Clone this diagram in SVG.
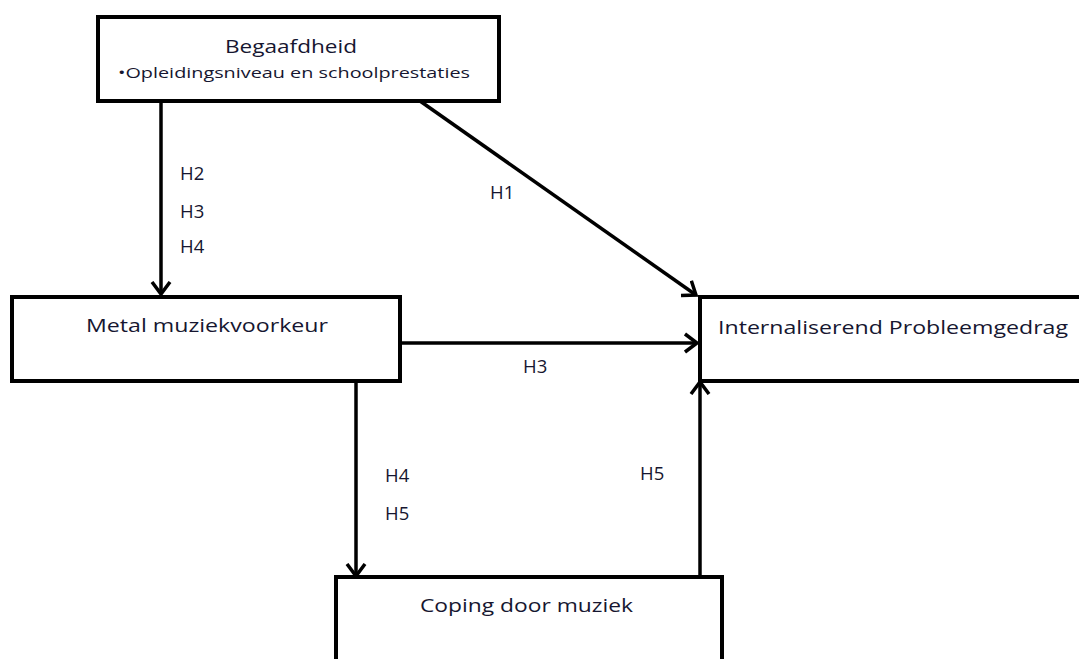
<svg xmlns="http://www.w3.org/2000/svg" width="1079" height="659" viewBox="0 0 1079 659">
<defs>
<marker id="ah" markerUnits="userSpaceOnUse" markerWidth="26" markerHeight="26" refX="13" refY="13" orient="auto" viewBox="0 0 26 26">
<path d="M1,4 L13,13 L1,22" fill="none" stroke="#000" stroke-width="3.5"/>
</marker>
<style>
.box{fill:#fff;stroke:#000;stroke-width:4}
.t{font-family:"Open Sans","Liberation Sans",sans-serif;fill:#161630}
.lbl{font-family:"Open Sans","Liberation Sans",sans-serif;font-size:18.5px;fill:#161630}
.c{fill:none;stroke:#000;stroke-width:3.5;marker-end:url(#ah)}
</style>
</defs>
<rect width="1079" height="659" fill="#fff"/>
<g id="connectors">
<line class="c" x1="161" y1="101" x2="161" y2="294"/>
<line class="c" x1="420" y1="101" x2="696" y2="295"/>
<line class="c" x1="400" y1="343" x2="697" y2="343"/>
<line class="c" x1="356" y1="381" x2="356" y2="576"/>
<line class="c" x1="700" y1="577" x2="700" y2="382"/>
<text class="lbl" x="180" y="180">H2</text>
<text class="lbl" x="180" y="218">H3</text>
<text class="lbl" x="180" y="253">H4</text>
<text class="lbl" x="490" y="199">H1</text>
<text class="lbl" x="523" y="373">H3</text>
<text class="lbl" x="385" y="482">H4</text>
<text class="lbl" x="385" y="520">H5</text>
<text class="lbl" x="640" y="480">H5</text>
</g>
<g id="begaafdheid">
<rect class="box" x="98" y="17" width="401" height="84"/>
<text class="t" x="291" y="53" font-size="19" text-anchor="middle" textLength="132" lengthAdjust="spacingAndGlyphs">Begaafdheid</text>
<text class="t" x="118" y="78" font-size="15" textLength="352" lengthAdjust="spacingAndGlyphs">•Opleidingsniveau en schoolprestaties</text>
</g>
<g id="metal">
<rect class="box" x="12" y="297" width="388" height="84"/>
<text class="t" x="86" y="332" font-size="19" textLength="242" lengthAdjust="spacingAndGlyphs">Metal muziekvoorkeur</text>
</g>
<g id="internaliserend">
<rect class="box" x="700" y="297" width="390" height="84"/>
<text class="t" x="718" y="334" font-size="19" textLength="350" lengthAdjust="spacingAndGlyphs">Internaliserend Probleemgedrag</text>
</g>
<g id="coping">
<rect class="box" x="336" y="577" width="386" height="100"/>
<text class="t" x="420" y="612" font-size="19" textLength="213" lengthAdjust="spacingAndGlyphs">Coping door muziek</text>
</g>
</svg>
